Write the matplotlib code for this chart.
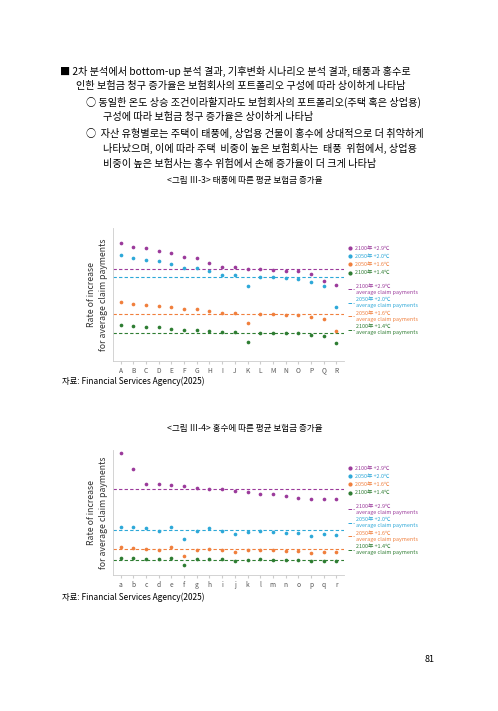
import matplotlib
matplotlib.use("Agg")
import matplotlib.pyplot as plt
from matplotlib.lines import Line2D

plt.rcParams['font.family'] = ['Noto Sans CJK KR', 'DejaVu Sans']

W, H = 498, 711
cats1 = list("ABCDEFGHIJKLMNOPQR")
cats2 = list("abcdefghijklmnopqr")

t_p = [35,33.9,33.4,32.6,32,30.9,30.5,29.1,28,27.9,27.3,27.2,27,26.7,26.6,25.8,23.7,22.4]
t_b = [31.5,30.5,30,29.6,28.8,27.6,27.5,26.6,25.5,25.4,22.3,24.8,24.8,24.5,24.3,23.4,22.1,15.9]
t_o = [17.5,16.9,16.6,16.3,16,15.4,15.3,14.7,14,14,11,13.8,13.8,13.6,13.5,13,12.3,8.7]
t_g = [10.4,10.1,9.9,9.8,9.5,9.2,9.2,8.8,8.5,8.5,5.6,8.2,8.2,8.1,8.1,7.7,7.3,5.2]
t_mean = [27.2, 24.8, 13.9, 8.3]

f_p = [36.7,31.9,27.2,27.2,27,26.7,26,25.8,25.7,25.2,24.8,24.4,24.2,23.8,23.1,22.9,22.8,22.8]
f_b = [14.5,14.5,14,13.2,14.5,10.7,13.2,14,13.2,12.2,13,13.3,12.9,12.5,12.5,11.8,12.2,12]
f_o = [8.3,8.2,7.9,7.6,8.3,5.6,7.6,7.8,7.5,7,7.6,7.6,7.4,7.1,7.1,6.6,7,6.8]
f_g = [5,5,4.9,4.7,5,2.9,4.7,4.9,4.7,4.3,4.6,4.7,4.5,4.4,4.4,4.2,4.2,4.2]
f_mean = [25.8, 13.4, 7.7, 4.4]

colors = ['#9B3A9B', '#2DA8D8', '#F07F3C', '#2E7D32']
lab1 = ['2100年 +2.9℃', '2050年 +2.0℃', '2050年 +1.6℃', '2100年 +1.4℃']
lab2 = ['2100年 +2.9℃\naverage claim payments', '2050年 +2.0℃\naverage claim payments',
        '2050年 +1.6℃\naverage claim payments', '2100年 +1.4℃\naverage claim payments']

fig = plt.figure(figsize=(W/100, H/100), dpi=100)

def ft(x, y, s, **kw):
    fig.text(x/W, 1-y/H, s, va='center', **kw)

fs = 7.3
ft(60, 71, "■ 2차 분석에서 bottom-up 분석 결과, 기후변화 시나리오 분석 결과, 태풍과 홍수로", fontsize=fs)
ft(76, 86, "인한 보험금 청구 증가율은 보험회사의 포트폴리오 구성에 따라 상이하게 나타남", fontsize=fs)
ft(86, 102, "○ 동일한 온도 상승 조건이라할지라도 보험회사의 포트폴리오(주택 혹은 상업용)", fontsize=fs)
ft(103, 117, "구성에 따라 보험금 청구 증가율은 상이하게 나타남", fontsize=fs)
ft(86, 133, "○  자산 유형별로는 주택이 태풍에, 상업용 건물이 홍수에 상대적으로 더 취약하게", fontsize=fs)
ft(103, 148, "나타났으며, 이에 따라 주택  비중이 높은 보험회사는  태풍  위험에서, 상업용", fontsize=fs)
ft(103, 164, "비중이 높은 보험사는 홍수 위험에서 손해 증가율이 더 크게 나타남", fontsize=fs)
ft(245, 180, "<그림 Ⅲ-3> 태풍에 따른 평균 보험금 증가율", fontsize=6.2, ha='center')
ft(62, 381, "자료: Financial Services Agency(2025)", fontsize=6)
ft(245, 428, "<그림 Ⅲ-4> 홍수에 따른 평균 보험금 증가율", fontsize=6.2, ha='center')
ft(62, 597, "자료: Financial Services Agency(2025)", fontsize=6)
ft(425, 659, "81", fontsize=6.5)

def chart(top, bottom, cats, series, means, ylim, legy):
    ax = fig.add_axes([113/W, 1-bottom/H, (344-113)/W, (bottom-top)/H])
    x = range(len(cats))
    for s, c, l in zip(series, colors, lab1):
        ax.scatter(x, s, s=7, color=c, label=l, zorder=3, linewidths=0)
    for m, c in zip(means, colors):
        ax.axhline(m, color=c, ls='--', lw=0.8, dashes=(3, 2))
    ax.set_xlim(-0.6, len(cats)-0.4)
    ax.set_ylim(*ylim)
    ax.set_xticks(list(x))
    ax.set_xticklabels(cats, fontsize=4.8, color='#555555')
    ax.set_yticks([])
    for sp in ['top', 'right']:
        ax.spines[sp].set_visible(False)
    for sp in ['left', 'bottom']:
        ax.spines[sp].set_color('#cccccc')
        ax.spines[sp].set_linewidth(0.6)
    ax.tick_params(axis='x', length=2, color='#cccccc', pad=2)
    yc = (top + bottom) / 2
    ft(91, yc, "Rate of increase", fontsize=6.3, rotation=90, ha='center', color='#333333')
    ft(104, yc, "for average claim payments", fontsize=6.3, rotation=90, ha='center', color='#333333')
    h1 = [Line2D([], [], marker='o', ls='', ms=2, color=c) for c in colors]
    leg1 = fig.legend(h1, lab1, loc='upper left', bbox_to_anchor=(345/W, 1-legy/H),
                      frameon=False, fontsize=3.9, handletextpad=0.3, labelspacing=0.6,
                      borderpad=0, handlelength=1)
    for t, c in zip(leg1.get_texts(), colors):
        t.set_color(c)
    h2 = [Line2D([], [], ls='--', lw=0.7, color=c) for c in colors]
    leg2 = fig.legend(h2, lab2, loc='upper left', bbox_to_anchor=(345/W, 1-(legy+38)/H),
                      frameon=False, fontsize=3.9, handletextpad=0.3, labelspacing=0.5,
                      borderpad=0, handlelength=1.2)
    for t, c in zip(leg2.get_texts(), colors):
        t.set_color(c)

chart(228, 361, cats1, [t_p, t_b, t_o, t_g], t_mean, (-0.2, 39.5), 243)
chart(450, 575, cats2, [f_p, f_b, f_o, f_g], f_mean, (0, 37.5), 463)

fig.savefig("out.png", dpi=100, facecolor='white')
